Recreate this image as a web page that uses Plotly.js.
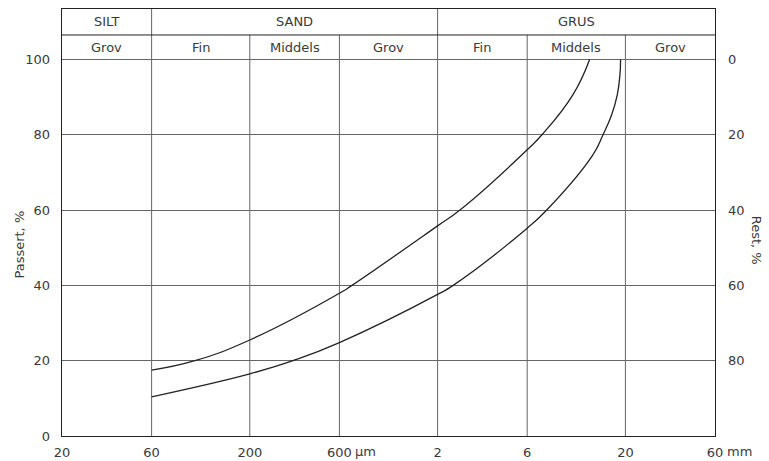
<!DOCTYPE html>
<html>
<head>
<meta charset="utf-8">
<script src="https://cdn.plot.ly/plotly-3.0.1.min.js"></script>
<style>html,body{margin:0;padding:0;background:#fff;}#chart{width:769px;height:461px;}</style>
</head>
<body>
<div id="chart"></div>
<script>
// ---- data ----
const sizeTicks = [0.02, 0.06, 0.2, 0.6, 2, 6, 20, 60];           // mm
const sizeTickText = ['20', '60', '200', '600', '2', '6', '20', '60'];
const passTicks = [0, 20, 40, 60, 80, 100];
const restTicks = [0, 20, 40, 60, 80];

const upperSize = [0.06, 0.102, 0.2, 0.6, 0.70, 2, 2.63, 6, 7.19, 10.5, 12.9];
const upperPass = [17.5, 20, 25.5, 37.9, 40, 55.8, 60, 76, 80, 90.6, 100];

const lowerSize = [0.06, 0.2, 0.34, 0.6, 2, 2.42, 6, 7.62, 13.4, 15.2, 16.9, 18.1, 18.7, 18.85];
const lowerPass = [10.4, 16.5, 20, 24.8, 37.6, 40, 55.2, 60, 74.6, 80, 85.3, 90.6, 95.9, 100];

const topClasses = ['SILT', 'SAND', 'GRUS'];
const topBounds = [0.02, 0.06, 2, 60];
const subClasses = ['Grov', 'Fin', 'Middels', 'Grov', 'Fin', 'Middels', 'Grov'];
const subBounds = [0.02, 0.06, 0.2, 0.6, 2, 6, 20, 60];

// ---- layout constants ----
const Y_TOP = 113.4, Y_MID = 106.5, Y_MAX = 100;
const ink = '#222', grid = '#666', txt = '#3a3a3a';
const FONT = 'DejaVu Sans, sans-serif';

const traces = [];
// vertical grid / header dividers
subBounds.slice(1, -1).forEach(v => {
  const top = topBounds.includes(v) ? Y_TOP : Y_MID;
  traces.push({x: [v, v], y: [0, top], mode: 'lines', line: {color: grid, width: 1},
               hoverinfo: 'skip', showlegend: false});
});
// header middle horizontal line
traces.push({x: [subBounds[0], subBounds[subBounds.length - 1]], y: [Y_MID, Y_MID], mode: 'lines',
             line: {color: ink, width: 1}, hoverinfo: 'skip', showlegend: false});
// curves
traces.push({x: upperSize, y: upperPass, mode: 'lines', line: {color: ink, width: 1.3, shape: 'spline', smoothing: 1.3},
             showlegend: false});
traces.push({x: lowerSize, y: lowerPass, mode: 'lines', line: {color: ink, width: 1.3, shape: 'spline', smoothing: 1.3},
             showlegend: false});
// dummy for right axis
traces.push({x: [0.1], y: [50], yaxis: 'y2', mode: 'markers', marker: {opacity: 0}, hoverinfo: 'skip', showlegend: false});

const L = Math.log10;
const annotations = [];
topClasses.forEach((t, i) => {
  annotations.push({xref: 'x', yref: 'y', x: (L(topBounds[i]) + L(topBounds[i + 1])) / 2,
    y: (Y_TOP + Y_MID) / 2, text: t, showarrow: false, font: {family: FONT, size: 13, color: txt}});
});
subClasses.forEach((t, i) => {
  annotations.push({xref: 'x', yref: 'y', x: (L(subBounds[i]) + L(subBounds[i + 1])) / 2,
    y: (Y_MID + Y_MAX) / 2, text: t, showarrow: false, font: {family: FONT, size: 13, color: txt}});
});
annotations.push({xref: 'x', yref: 'paper', x: L(0.6), y: 0, yanchor: 'top', xanchor: 'left', xshift: 14, yshift: -6,
  text: 'µm', showarrow: false, font: {family: FONT, size: 13, color: txt}});
annotations.push({xref: 'x', yref: 'paper', x: L(60), y: 0, yanchor: 'top', xanchor: 'left', xshift: 10, yshift: -6,
  text: 'mm', showarrow: false, font: {family: FONT, size: 13, color: txt}});
annotations.push({xref: 'paper', yref: 'y', x: 0, xshift: -52, y: 50.7, text: 'Passert, %', textangle: -90,
  showarrow: false, font: {family: FONT, size: 13, color: txt}});
annotations.push({xref: 'paper', yref: 'y', x: 1, xshift: 51, y: 52, text: 'Rest, %', textangle: 90,
  showarrow: false, font: {family: FONT, size: 13, color: txt}});

const layout = {
  width: 769, height: 461,
  margin: {l: 62, r: 54, t: 9, b: 25, pad: 0},
  paper_bgcolor: '#fff', plot_bgcolor: '#fff',
  font: {family: FONT, size: 13, color: txt},
  showlegend: false,
  xaxis: {type: 'log', range: [L(0.02), L(60)], tickvals: sizeTicks, ticktext: sizeTickText,
          showgrid: false, zeroline: false, showline: true, mirror: true, linecolor: ink, linewidth: 1.3,
          ticks: '', ticklabelstandoff: 4, tickfont: {family: FONT, size: 13, color: txt}},
  yaxis: {range: [0, Y_TOP], tickvals: passTicks, showgrid: true, gridcolor: grid, gridwidth: 1,
          zeroline: false, showline: true, mirror: true, linecolor: ink, linewidth: 1.3,
          ticks: '', ticklabelstandoff: 8, tickfont: {family: FONT, size: 13, color: txt}},
  yaxis2: {overlaying: 'y', side: 'right', anchor: 'x', range: [Y_MAX, Y_MAX - Y_TOP], tickvals: restTicks,
           showgrid: false, zeroline: false, showline: false, ticks: '', ticklabelstandoff: 12,
           tickfont: {family: FONT, size: 13, color: txt}},
  annotations: annotations
};

Plotly.newPlot('chart', traces, layout, {displayModeBar: false, staticPlot: true});
</script>
</body>
</html>
